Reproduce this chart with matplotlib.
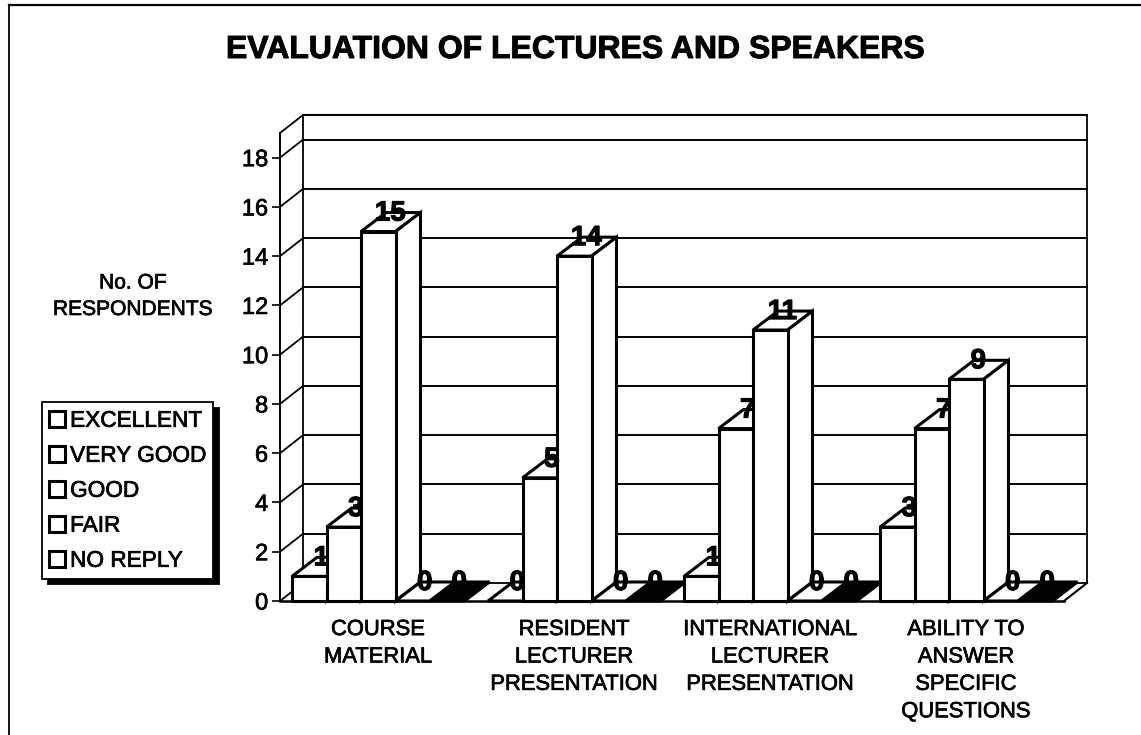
import numpy as np
import matplotlib
matplotlib.use("Agg")
import matplotlib.pyplot as plt
import matplotlib.patheffects as pe
from matplotlib.patches import Polygon, Patch
from matplotlib.lines import Line2D

plt.rcParams["font.family"] = ["Liberation Sans", "DejaVu Sans"]

# Data
categories = ["COURSE\nMATERIAL", "RESIDENT\nLECTURER\nPRESENTATION",
              "INTERNATIONAL\nLECTURER\nPRESENTATION", "ABILITY TO\nANSWER\nSPECIFIC\nQUESTIONS"]
series_names = ["EXCELLENT", "VERY GOOD", "GOOD", "FAIR", "NO REPLY"]
excellent = [1, 0, 1, 3]
very_good = [3, 5, 7, 7]
good = [15, 14, 11, 9]
fair = [0, 0, 0, 0]
no_reply = [0, 0, 0, 0]
yticks = [0, 2, 4, 6, 8, 10, 12, 14, 16, 18]

W, H = 1141, 735
fig = plt.figure(figsize=(W / 100, H / 100), dpi=100)
ax = fig.add_axes([280 / W, 1 - 601 / H, 784 / W, 468 / H])
ax.set_xlim(0, 4)
ax.set_ylim(0, 19)

px_x = 4 / 784
px_y = 19 / 468
wall_dx, wall_dy = 23 * px_x, 18 * px_y
bar_dx, bar_dy = 25 * px_x, 19 * px_y
bar_w = 34.5 * px_x
lw = 2.2
# scanned text looks heavier than the plain font
heavy = [pe.withStroke(linewidth=0.5, foreground="k")]

# walls and floor
ax.plot([wall_dx, wall_dx], [wall_dy, 19 + wall_dy], color="k", lw=1.3, clip_on=False, zorder=1)
ax.plot([wall_dx, 4 + wall_dx], [19 + wall_dy] * 2, color="k", lw=1.5, clip_on=False, zorder=1)
ax.plot([4 + wall_dx] * 2, [wall_dy, 19 + wall_dy], color="k", lw=1.3, clip_on=False, zorder=1)
ax.plot([0, wall_dx], [19, 19 + wall_dy], color="k", lw=1.3, clip_on=False, zorder=1)
ax.plot([4, 4 + wall_dx], [0, wall_dy], color="k", lw=1.5, clip_on=False, zorder=1)
ax.plot([wall_dx, 4 + wall_dx], [wall_dy, wall_dy], color="k", lw=1.3, clip_on=False, zorder=1)
for t in yticks:
    ax.plot([0, wall_dx], [t, t + wall_dy], color="k", lw=1.3, clip_on=False, zorder=1)
    if t > 0:
        ax.plot([wall_dx, 4 + wall_dx], [t + wall_dy] * 2, color="k", lw=1.4, clip_on=False, zorder=1)

# bars, drawn left to right so each one covers the side of the previous one
all_series = [excellent, very_good, good, fair, no_reply]
top_colors = ["white", "white", "white", "white", "black"]
group_start = 12 * px_x
z = 3
for i in range(len(categories)):
    for j, vals in enumerate(all_series):
        v = vals[i]
        x0 = i + group_start + j * bar_w
        x1 = x0 + bar_w
        top = Polygon([(x0, v), (x1, v), (x1 + bar_dx, v + bar_dy), (x0 + bar_dx, v + bar_dy)],
                      closed=True, facecolor=top_colors[j], edgecolor="k", lw=lw,
                      joinstyle="miter", clip_on=False, zorder=z)
        ax.add_patch(top)
        if v > 0:
            side = Polygon([(x1, 0), (x1 + bar_dx, bar_dy), (x1 + bar_dx, v + bar_dy), (x1, v)],
                           closed=True, facecolor="white", edgecolor="k", lw=lw,
                           joinstyle="miter", clip_on=False, zorder=z)
            ax.add_patch(side)
            ax.bar(x0, v, bar_w, align="edge", facecolor="white", edgecolor="k", lw=lw,
                   clip_on=False, zorder=z)
        z += 1

# value labels on top of everything
for i in range(len(categories)):
    for j, vals in enumerate(all_series):
        v = vals[i]
        x0 = i + group_start + j * bar_w
        ax.text(x0 + bar_w / 2 + 12 * px_x, v + 18 * px_y, str(v), fontsize=20, fontweight="bold",
                ha="center", va="center", color="k", zorder=100, clip_on=False,
                path_effects=[pe.withStroke(linewidth=0.8, foreground="k")])

# axes
ax.set_xticks(np.arange(len(categories)) + 0.5)
ax.set_xticklabels(categories, fontsize=15.8, linespacing=1.4, path_effects=heavy)
ax.tick_params(axis="x", length=0, pad=13)
ax.set_yticks(yticks)
ax.tick_params(axis="y", length=5.5, width=1.2, labelsize=17, pad=3)
for lab in ax.get_yticklabels():
    lab.set_path_effects(heavy)
for s in ["top", "right"]:
    ax.spines[s].set_visible(False)
ax.spines["left"].set_linewidth(1.4)
ax.spines["bottom"].set_linewidth(1.8)
ax.spines["bottom"].set_zorder(50)
ax.patch.set_alpha(0)

fig.text(133 / W, 1 - 315 / H, "No. OF\nRESPONDENTS", fontsize=15.1, ha="center", va="baseline",
         linespacing=1.5, path_effects=heavy)
fig.text(576 / W, 1 - 58 / H, "EVALUATION OF LECTURES AND SPEAKERS", fontsize=23, fontweight="bold",
         ha="center", va="baseline", path_effects=[pe.withStroke(linewidth=0.7, foreground="k")])

# legend
handles = [Patch(facecolor="white", edgecolor="k", lw=2.2) for _ in series_names]
leg = fig.legend(handles, series_names, loc="upper left", bbox_to_anchor=(42 / W, 1 - 402 / H),
                 borderaxespad=0, fontsize=16.3, frameon=True, fancybox=False, framealpha=1,
                 edgecolor="k", handlelength=0.72, handleheight=0.72, handletextpad=0.22,
                 labelspacing=0.53, borderpad=0.3,
                 shadow={"ox": 4, "oy": -4, "color": "k", "alpha": 1})
leg.get_frame().set_linewidth(1.3)
for txt in leg.get_texts():
    txt.set_path_effects(heavy)

# page frame (left and top edges of the scanned border)
fig.add_artist(Line2D([8.5 / W, 8.5 / W], [0, 1 - 5 / H], color="k", lw=1.3))
fig.add_artist(Line2D([8.5 / W, 1], [1 - 5 / H, 1 - 5 / H], color="k", lw=1.6))

fig.savefig("out.png", dpi=100)
